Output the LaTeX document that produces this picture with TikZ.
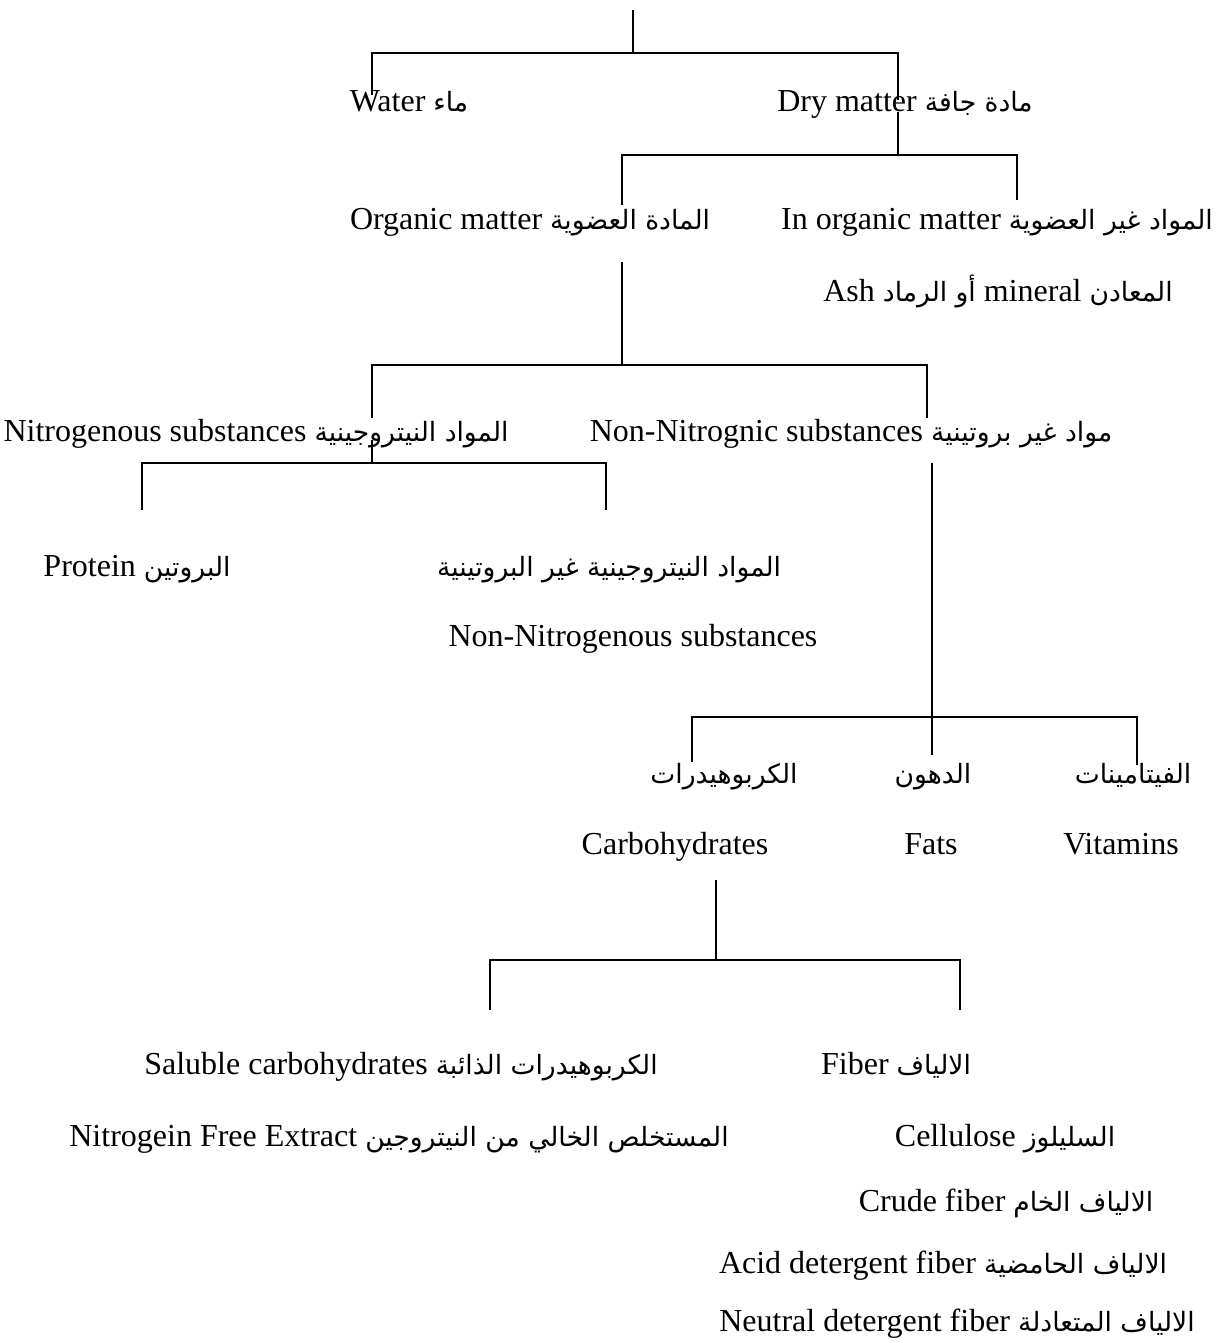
\documentclass[tikz,border=0pt]{standalone}
\usepackage{fontspec}
\setmainfont{Liberation Serif}
\newfontfamily\arabicfont[Script=Arabic,Scale=0.83]{DejaVu Sans}
\TeXXeTstate=1
\newcommand{\artxt}[1]{{\arabicfont\beginR #1\endR}}
\usetikzlibrary{positioning}

\begin{document}
\begin{tikzpicture}[x=0.5pt,y=-0.5pt,
    lbl/.style={anchor=mid,inner sep=0pt,yshift=-3.5pt,font=\fontsize{16}{19}\selectfont},
    tree/.style={line width=1.1pt}]
            \useasboundingbox (0,0) rectangle (1215,1342);

            % labels
            \node[lbl] (water) at (409,100) {Water \artxt{ماء}};
            \node[lbl] (dry) at (905,100) {Dry matter \artxt{مادة جافة}};
            \node[lbl] (organic) at (530,218) {Organic matter \artxt{المادة العضوية}};
            \node[lbl] (inorganic) at (997,218) {In organic matter \artxt{المواد غير العضوية}};
            \node[lbl] (ash) at (998,290) {Ash \artxt{أو الرماد} mineral \artxt{المعادن}};
            \node[lbl] (nitro) at (256,430) {Nitrogenous substances \artxt{المواد النيتروجينية}};
            \node[lbl] (nonnitro) at (851,430) {Non-Nitrognic substances \artxt{مواد غير بروتينية}};
            \node[lbl] (protein) at (137,565) {Protein \artxt{البروتين}};
            \node[lbl] (npn) at (609,565) {\artxt{المواد النيتروجينية غير البروتينية}};
            \node[lbl] (npnen) at (633,635) {Non-Nitrogenous substances};
            \node[lbl] (carbar) at (724,772) {\artxt{الكربوهيدرات}};
            \node[lbl] (fatar) at (933,772) {\artxt{الدهون}};
            \node[lbl] (vitar) at (1133,772) {\artxt{الفيتامينات}};
            \node[lbl] (carb) at (675,843) {Carbohydrates};
            \node[lbl] (fats) at (931,843) {Fats};
            \node[lbl] (vit) at (1121,843) {Vitamins};
            \node[lbl] (soluble) at (401,1063) {Saluble carbohydrates \artxt{الكربوهيدرات الذائبة}};
            \node[lbl] (fiber) at (896,1063) {Fiber \artxt{الالياف}};
            \node[lbl] (nfe) at (399,1135) {Nitrogein Free Extract \artxt{المستخلص الخالي من النيتروجين}};
            \node[lbl] (cell) at (1005,1135) {Cellulose \artxt{السليلوز}};
            \node[lbl] (crude) at (1006,1200) {Crude fiber \artxt{الالياف الخام}};
            \node[lbl] (adf) at (943,1262) {Acid detergent fiber \artxt{الالياف الحامضية}};
            \node[lbl] (ndf) at (957,1320) {Neutral detergent fiber \artxt{الالياف المتعادلة}};

            % junctions
            \coordinate (r0) at (633,10);
            \coordinate (r1) at (633,53);
            \coordinate (waterT) at (372,95);
            \coordinate (dryT) at (898,100);
            \coordinate (d0) at (898,112);
            \coordinate (d1) at (898,155);
            \coordinate (organicT) at (622,205);
            \coordinate (inorganicT) at (1017,200);
            \coordinate (o0) at (622,262);
            \coordinate (o1) at (622,365);
            \coordinate (nitroT) at (372,418);
            \coordinate (nonnitroT) at (927,418);
            \coordinate (n0) at (372,440);
            \coordinate (n1) at (372,463);
            \coordinate (proteinT) at (142,510);
            \coordinate (npnT) at (606,510);
            \coordinate (m0) at (932,463);
            \coordinate (m1) at (932,717);
            \coordinate (carbarT) at (692,762);
            \coordinate (fatarT) at (932,755);
            \coordinate (vitarT) at (1137,765);
            \coordinate (c0) at (716,880);
            \coordinate (c1) at (716,960);
            \coordinate (solubleT) at (490,1010);
            \coordinate (fiberT) at (960,1010);

            \draw[tree] (r0) -- (r1);
            \draw[tree] (waterT) |- (r1) -| (dryT);
            \draw[tree] (d0) -- (d1);
            \draw[tree] (organicT) |- (d1) -| (inorganicT);
            \draw[tree] (o0) -- (o1);
            \draw[tree] (nitroT) |- (o1) -| (nonnitroT);
            \draw[tree] (n0) -- (n1);
            \draw[tree] (proteinT) |- (n1) -| (npnT);
            \draw[tree] (m0) -- (m1) -- (fatarT);
            \draw[tree] (carbarT) |- (m1) -| (vitarT);
            \draw[tree] (c0) -- (c1);
            \draw[tree] (solubleT) |- (c1) -| (fiberT);
        \end{tikzpicture}
\end{document}
